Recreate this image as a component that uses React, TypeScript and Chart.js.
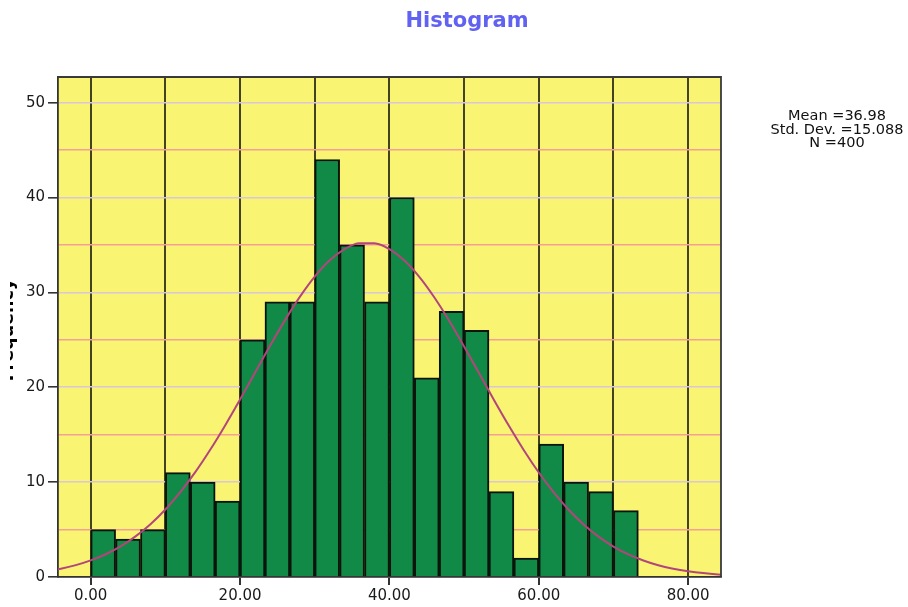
import React, { useEffect, useRef } from "react";
import { Chart, registerables } from "chart.js";

Chart.register(...registerables);

// ---- data ----
const BIN_WIDTH = 10 / 3;
const binCounts = [5, 4, 5, 11, 10, 8, 25, 29, 29, 44, 35, 29, 40, 21, 28, 26, 9, 2, 14, 10, 9, 7];
const curveX = [-6, -4, -2, 0, 2, 4, 6, 8, 10, 12, 14, 16, 18, 20, 22, 24, 26, 28, 30, 32, 34, 36, 38, 40, 42, 44, 46, 48, 50, 52, 54, 56, 58, 60, 62, 64, 66, 68, 70, 72, 74, 76, 78, 80, 82, 84, 86];
const curveY = [0.61, 0.88, 1.25, 1.75, 2.4, 3.23, 4.28, 5.57, 7.12, 8.95, 11.05, 13.41, 15.98, 18.71, 21.53, 24.35, 27.05, 29.53, 31.67, 33.38, 34.57, 35.18, 35.17, 34.55, 33.35, 31.63, 29.48, 27.0, 24.29, 21.48, 18.66, 15.93, 13.36, 11.01, 8.91, 7.09, 5.54, 4.26, 3.21, 2.38, 1.74, 1.24, 0.88, 0.61, 0.41, 0.27, 0.18];
const xTickLabels = [0, 20, 40, 60, 80];
const yTickLabels = [0, 10, 20, 30, 40, 50];
const statsLines = ["Mean =36.98", "Std. Dev. =15.088", "N =400"];
const TITLE = "Histogram";
const Y_TITLE = "Frequency";

const FONT = "DejaVu Sans";

const decorPlugin = {
  id: "decor",
  beforeDraw(chart: any) {
    const { ctx, chartArea: a } = chart;
    ctx.save();
    ctx.fillStyle = "#f9f572";
    ctx.fillRect(a.left, a.top, a.right - a.left, a.bottom - a.top);
    ctx.restore();
  },
  afterDatasetsDraw(chart: any) {
    const { ctx, chartArea: a } = chart;
    ctx.save();
    ctx.strokeStyle = "#3a3a3a";
    ctx.lineWidth = 1.8;
    ctx.beginPath();
    ctx.moveTo(a.left, a.top);
    ctx.lineTo(a.right, a.top);
    ctx.lineTo(a.right, a.bottom);
    ctx.stroke();
    ctx.restore();
  },
  afterDraw(chart: any) {
    const { ctx } = chart;
    ctx.save();
    // title
    ctx.fillStyle = "#6262f2";
    ctx.font = `bold 21px "${FONT}"`;
    ctx.textAlign = "center";
    ctx.textBaseline = "alphabetic";
    ctx.fillText(TITLE, 467, 27);
    // stats
    ctx.fillStyle = "#111";
    ctx.font = `14.5px "${FONT}"`;
    statsLines.forEach((s, i) => ctx.fillText(s, 837, 120 + i * 13.5));
    // y title (clipped at the left edge)
    ctx.beginPath();
    ctx.rect(10, 0, 20, 607);
    ctx.clip();
    ctx.translate(13, 330);
    ctx.rotate(-Math.PI / 2);
    ctx.fillStyle = "#000";
    ctx.font = `bold 17.5px "${FONT}"`;
    ctx.textAlign = "center";
    ctx.textBaseline = "alphabetic";
    ctx.fillText(Y_TITLE, 0, 0);
    ctx.restore();
  },
};

export default function App() {
  const ref = useRef<HTMLCanvasElement | null>(null);
  useEffect(() => {
    if (!ref.current) return;
    const chart = new Chart(ref.current, {
      type: "bar",
      data: {
        datasets: [
          {
            type: "line",
            data: curveX.map((x, i) => ({ x, y: curveY[i] })),
            borderColor: "#b3457c",
            borderWidth: 2,
            pointRadius: 0,
            cubicInterpolationMode: "monotone",
            order: 0,
          } as any,
          {
            type: "bar",
            data: binCounts.map((c, i) => ({ x: (i + 0.5) * BIN_WIDTH, y: c })),
            backgroundColor: "#118a48",
            borderColor: "#0c140c",
            borderWidth: 2,
            barPercentage: 1,
            categoryPercentage: 1,
            grouped: false,
            order: 1,
          } as any,
        ],
      },
      options: {
        animation: false,
        responsive: false,
        layout: { padding: { left: 0, top: 77, right: 187, bottom: 0 } },
        plugins: { legend: { display: false }, tooltip: { enabled: false }, title: { display: false } },
        scales: {
          x: {
            type: "linear",
            min: -4.38,
            max: 84.4,
            offset: false,
            ticks: {
              stepSize: 10,
              includeBounds: false,
              autoSkip: false,
              maxRotation: 0,
              minRotation: 0,
              padding: 2,
              color: "#1a1a1a",
              font: { family: FONT, size: 15 },
              callback: (v: any) => (xTickLabels.includes(Number(v)) ? Number(v).toFixed(2) : ""),
            },
            grid: {
              offset: false,
              color: (c: any) => (c.tick && Math.abs(c.tick.value % 10) < 1e-9 ? "rgba(35,35,20,0.85)" : "transparent"),
              tickColor: (c: any) => (c.tick && xTickLabels.includes(c.tick.value) ? "#333" : "transparent"),
              lineWidth: 2,
              tickLength: 8,
            },
            border: { color: "#333", width: 1.8 },
            afterFit: (s: any) => {
              s.height = 30;
            },
          },
          y: {
            min: 0,
            max: 52.7,
            ticks: {
              stepSize: 5,
              includeBounds: false,
              autoSkip: false,
              padding: 3,
              color: "#1a1a1a",
              font: { family: FONT, size: 15 },
              callback: (v: any) => (yTickLabels.includes(Number(v)) ? String(v) : ""),
            },
            grid: {
              color: (c: any) => {
                const v = c.tick ? c.tick.value : -1;
                if (yTickLabels.includes(v)) return "#dac6dc";
                if (Math.abs(v % 5) < 1e-9) return "#f79d9a";
                return "transparent";
              },
              tickColor: (c: any) => (c.tick && yTickLabels.includes(c.tick.value) ? "#333" : "transparent"),
              lineWidth: 1.6,
              tickLength: 10,
            },
            border: { color: "#333", width: 1.8 },
            afterFit: (s: any) => {
              s.width = 58;
            },
          },
        },
      },
      plugins: [decorPlugin],
    });
    return () => chart.destroy();
  }, []);
  return (
    <div style={{ position: "absolute", left: 0, top: 0, width: 908, height: 607, background: "#fff" }}>
      <canvas ref={ref} width={908} height={607} style={{ display: "block" }} />
    </div>
  );
}
